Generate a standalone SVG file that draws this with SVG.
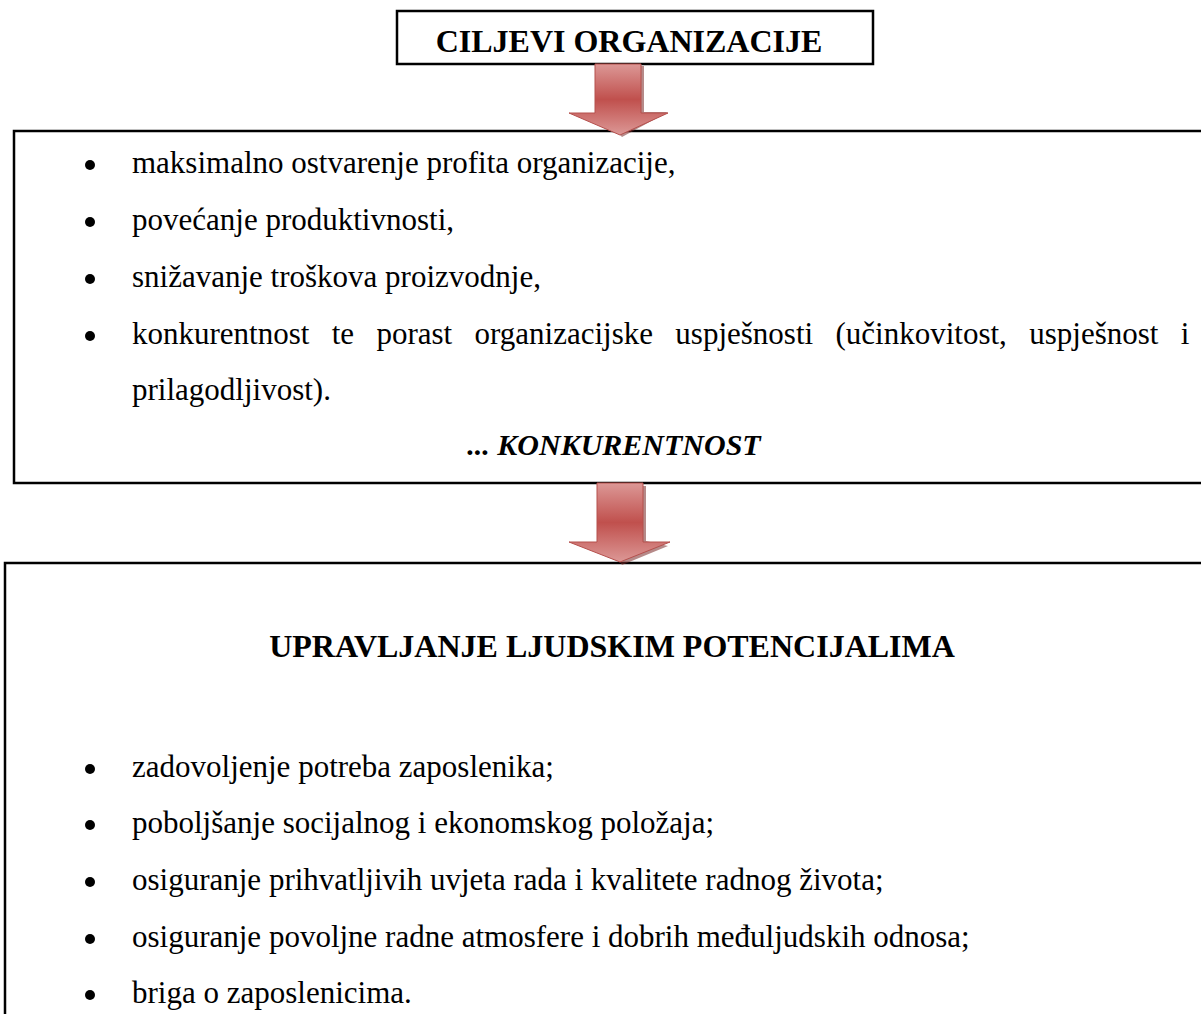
<svg xmlns="http://www.w3.org/2000/svg" width="1201" height="1014" viewBox="0 0 1201 1014">
<style>
.box{fill:#fff;stroke:#000;stroke-width:2.5}
.t{font-family:"Liberation Serif","Times New Roman",serif;font-size:31px;fill:#000}
.b{font-weight:bold;font-size:32px}
.bi{font-weight:bold;font-style:italic;font-size:30px}
.bul{fill:#000}
.arr{fill:url(#g);stroke:#b5504d;stroke-width:1}
.sh{fill:#7a2a28;opacity:0.55}
</style>
<defs>
<linearGradient id="g" x1="0" y1="0" x2="0" y2="1">
<stop offset="0" stop-color="#dc9896"/>
<stop offset="0.5" stop-color="#c0504d"/>
<stop offset="1" stop-color="#dc9896"/>
</linearGradient>
</defs>
<g id="node-ciljevi">
<rect class="box" x="397" y="11" width="476" height="53"/>
<text class="t b" x="629" y="52" text-anchor="middle">CILJEVI ORGANIZACIJE</text>
</g>
<g id="node-lista1">
<rect class="box" x="14" y="131" width="1200" height="352"/>
<circle class="bul" cx="90" cy="165" r="5"/>
<text class="t" x="132" y="173">maksimalno ostvarenje profita organizacije,</text>
<circle class="bul" cx="90" cy="222" r="5"/>
<text class="t" x="132" y="230">povećanje produktivnosti,</text>
<circle class="bul" cx="90" cy="279" r="5"/>
<text class="t" x="132" y="287">snižavanje troškova proizvodnje,</text>
<circle class="bul" cx="90" cy="336" r="5"/>
<text class="t" x="132" y="344" word-spacing="14.6">konkurentnost te porast organizacijske uspješnosti (učinkovitost, uspješnost i</text>
<text class="t" x="132" y="400">prilagodljivost).</text>
<text class="t bi" x="614" y="455" text-anchor="middle">... KONKURENTNOST</text>
</g>
<g id="node-upravljanje">
<rect class="box" x="5" y="563" width="1220" height="470"/>
<text class="t b" x="612" y="657" text-anchor="middle">UPRAVLJANJE LJUDSKIM POTENCIJALIMA</text>
<circle class="bul" cx="90" cy="769" r="5"/>
<text class="t" x="132" y="777">zadovoljenje potreba zaposlenika;</text>
<circle class="bul" cx="90" cy="825" r="5"/>
<text class="t" x="132" y="833">poboljšanje socijalnog i ekonomskog položaja;</text>
<circle class="bul" cx="90" cy="882" r="5"/>
<text class="t" x="132" y="890">osiguranje prihvatljivih uvjeta rada i kvalitete radnog života;</text>
<circle class="bul" cx="90" cy="939" r="5"/>
<text class="t" x="132" y="947">osiguranje povoljne radne atmosfere i dobrih međuljudskih odnosa;</text>
<circle class="bul" cx="90" cy="995" r="5"/>
<text class="t" x="132" y="1003">briga o zaposlenicima.</text>
</g>
<g id="connectors">
<path class="sh" d="M641 66 L644 66 L644 112 L668 112 L622 137 L620 135 Z"/>
<path class="arr" d="M595 64 L641 64 L641 113 L668 113 L620 135 L569 113 L595 113 Z"/>
<path class="sh" d="M643 486 L646 486 L646 541 L668 546 L622 565 L620 562 Z"/>
<path class="arr" d="M597 483 L643 483 L643 542 L670 542 L620 562 L569 542 L597 542 Z"/>
</g>
</svg>
